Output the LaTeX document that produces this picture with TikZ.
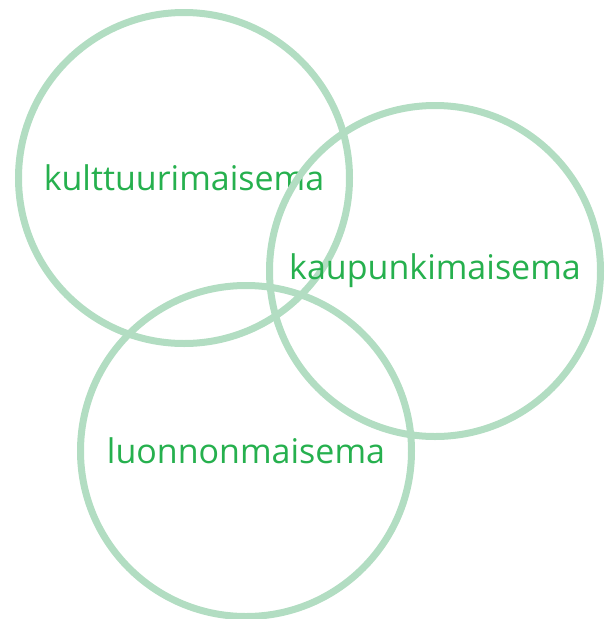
\documentclass[tikz,border=0pt]{standalone}
\usepackage{fontspec}
\setmainfont{Open Sans}
\usepackage{xcolor}
\definecolor{ringgreen}{RGB}{178,221,194}
\definecolor{labelgreen}{RGB}{38,176,78}
\usetikzlibrary{positioning}

\begin{document}
\begin{tikzpicture}[x=1pt, y=-1pt,
  ring/.style={draw=ringgreen, circle, line width=7pt, minimum size=331pt, inner sep=0pt,
    text=labelgreen, font=\fontsize{34}{40}\selectfont}]
\useasboundingbox (0,0) rectangle (612,619);
\node[ring] (culture) at (184,178) {kulttuurimaisema};
\node[ring] (urban) at (435,271) {kaupunkimaisema};
\node[ring] (nature) at (246,451) {luonnonmaisema};
\end{tikzpicture}
\end{document}
